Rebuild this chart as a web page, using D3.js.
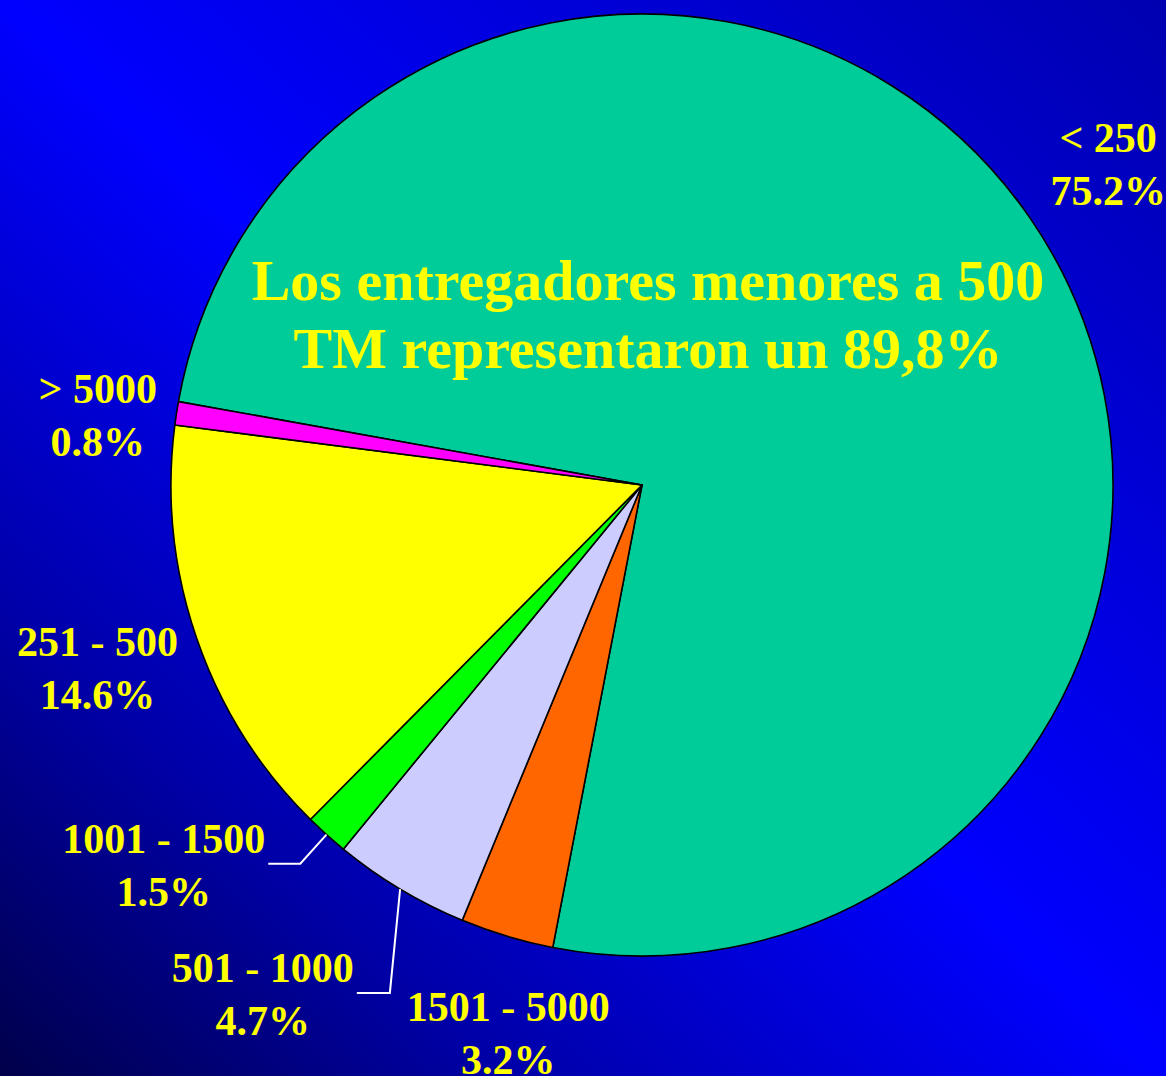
<!DOCTYPE html>
<html>
<head>
<meta charset="utf-8">
<script src="https://cdn.jsdelivr.net/npm/d3@7"></script>
<style>
  html, body { margin: 0; padding: 0; overflow: hidden; }
  svg { display: block; }
</style>
</head>
<body>
<svg id="chart"></svg>
<script>
// data
const categories = ["< 250", "1501 - 5000", "501 - 1000", "1001 - 1500", "251 - 500", "> 5000"];
const shares = [75.2, 3.2, 4.7, 1.5, 14.6, 0.8];
const sliceColors = ["#00CC99", "#FF6600", "#CCCCFF", "#00FF00", "#FFFF00", "#FF00FF"];
const titleLines = ["Los entregadores menores a 500", "TM representaron un 89,8%"];

// layout
const width = 1166, height = 1076;
const cx = 642, cy = 485, radius = 471;
const startDeg = -79.8;
const lineGap = 53;

// label placement tweaks (angle offset deg, radius factor), leader labels marked
const labelTweaks = {
  "< 250":       { da: 0,    rf: 1.2 },
  "1501 - 5000": { da: -3,   rf: 1.2 },
  "251 - 500":   { da: 0.3,  rf: 1.22 },
  "> 5000":      { da: -1.5, rf: 1.165 },
  "1001 - 1500": { leader: true, elbowDa: 0,    elbowRf: 1.083, run: 32 },
  "501 - 1000":  { leader: true, elbowDa: -4.5, elbowRf: 1.204, run: 33 }
};

const svg = d3.select("#chart")
    .attr("width", width)
    .attr("height", height);

// background gradient
const defs = svg.append("defs");
const grad = defs.append("linearGradient")
    .attr("id", "bg")
    .attr("x1", 0).attr("y1", 1)
    .attr("x2", 1).attr("y2", 0);
grad.append("stop").attr("offset", "0%").attr("stop-color", "#00004a");
grad.append("stop").attr("offset", "22%").attr("stop-color", "#0000a8");
grad.append("stop").attr("offset", "50%").attr("stop-color", "#0000ff");
grad.append("stop").attr("offset", "100%").attr("stop-color", "#0000b0");

svg.append("rect")
    .attr("width", width)
    .attr("height", height)
    .attr("fill", "url(#bg)");

const rad = d => d * Math.PI / 180;

const pie = d3.pie()
    .sort(null)
    .value(d => d.value)
    .startAngle(rad(startDeg))
    .endAngle(rad(startDeg + 360));

const data = categories.map((c, i) => ({ name: c, value: shares[i], color: sliceColors[i] }));
const arcs = pie(data);

const arc = d3.arc().innerRadius(0).outerRadius(radius);

const g = svg.append("g").attr("transform", `translate(${cx},${cy})`);

g.selectAll("path.slice")
    .data(arcs)
    .enter().append("path")
    .attr("class", "slice")
    .attr("d", arc)
    .attr("fill", d => d.data.color)
    .attr("stroke", "#000")
    .attr("stroke-width", 1.6)
    .attr("stroke-linejoin", "round");

// polar helper (clockwise from 12 o'clock)
function polar(angle, r) {
  return [Math.sin(angle) * r, -Math.cos(angle) * r];
}

const fontFamily = "'Liberation Serif', 'Times New Roman', Times, serif";

function labelText(sel) {
  return sel.append("text")
      .attr("fill", "#FFFF00")
      .attr("font-family", fontFamily)
      .attr("font-weight", "bold")
      .attr("font-size", 42);
}

arcs.forEach(a => {
  const t = labelTweaks[a.data.name];
  const mid = (a.startAngle + a.endAngle) / 2;
  const pct = d3.format(".1f")(a.data.value) + "%";
  const lbl = g.append("g").attr("class", "label");

  if (t.leader) {
    const p0 = polar(mid, radius);
    const p1 = polar(mid + rad(t.elbowDa), radius * t.elbowRf);
    const p2 = [p1[0] - t.run, p1[1]];
    g.append("polyline")
        .attr("points", [p0, p1, p2].map(p => p.join(",")).join(" "))
        .attr("fill", "none")
        .attr("stroke", "#fff")
        .attr("stroke-width", 2);

    const t1 = labelText(lbl)
        .attr("x", p2[0] - 3)
        .attr("y", p1[1] - 11)
        .attr("text-anchor", "end")
        .text(a.data.name);
    const w = t1.node().getComputedTextLength();
    labelText(lbl)
        .attr("x", p2[0] - 3 - w / 2)
        .attr("y", p1[1] - 11 + lineGap)
        .attr("text-anchor", "middle")
        .text(pct);
  } else {
    const p = polar(mid + rad(t.da), radius * t.rf);
    labelText(lbl)
        .attr("x", p[0])
        .attr("y", p[1] - 13)
        .attr("text-anchor", "middle")
        .text(a.data.name);
    labelText(lbl)
        .attr("x", p[0])
        .attr("y", p[1] - 13 + lineGap)
        .attr("text-anchor", "middle")
        .text(pct);
  }
});

// annotation inside the big slice
svg.selectAll("text.title")
    .data(titleLines)
    .enter().append("text")
    .attr("class", "title")
    .attr("x", 648)
    .attr("y", (d, i) => 300 + i * 68)
    .attr("text-anchor", "middle")
    .attr("fill", "#FFFF00")
    .attr("font-family", fontFamily)
    .attr("font-weight", "bold")
    .attr("font-size", 58)
    .text(d => d);
</script>
</body>
</html>
